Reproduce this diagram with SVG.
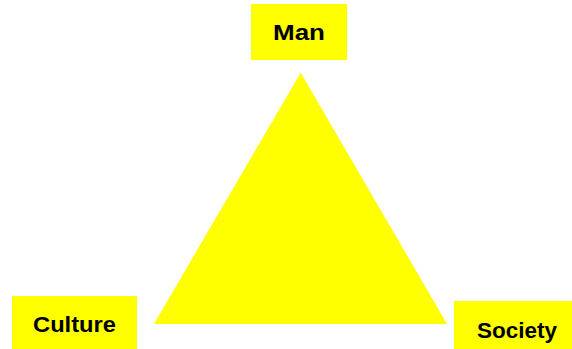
<svg xmlns="http://www.w3.org/2000/svg" width="572" height="349" viewBox="0 0 572 349">
<style>
.box{fill:#ffff00}
.lbl{font-family:"Liberation Sans",Arial,sans-serif;font-weight:bold;font-size:22px;fill:#000}
</style>
<rect width="572" height="349" fill="#fff"/>
<g id="triangle"><polygon points="300.7,72.7 154,324 447,324" fill="#ffff00"/></g>
<g id="man"><rect class="box" x="251" y="4" width="96" height="56"/><text class="lbl" x="273" y="40" textLength="52" lengthAdjust="spacingAndGlyphs">Man</text></g>
<g id="culture"><rect class="box" x="12" y="296" width="125" height="53"/><text class="lbl" x="33" y="332" textLength="83" lengthAdjust="spacingAndGlyphs">Culture</text></g>
<g id="society"><rect class="box" x="454" y="301" width="118" height="48"/><text class="lbl" x="477" y="338" textLength="80" lengthAdjust="spacingAndGlyphs">Society</text></g>
<g id="connectors"/>
</svg>
